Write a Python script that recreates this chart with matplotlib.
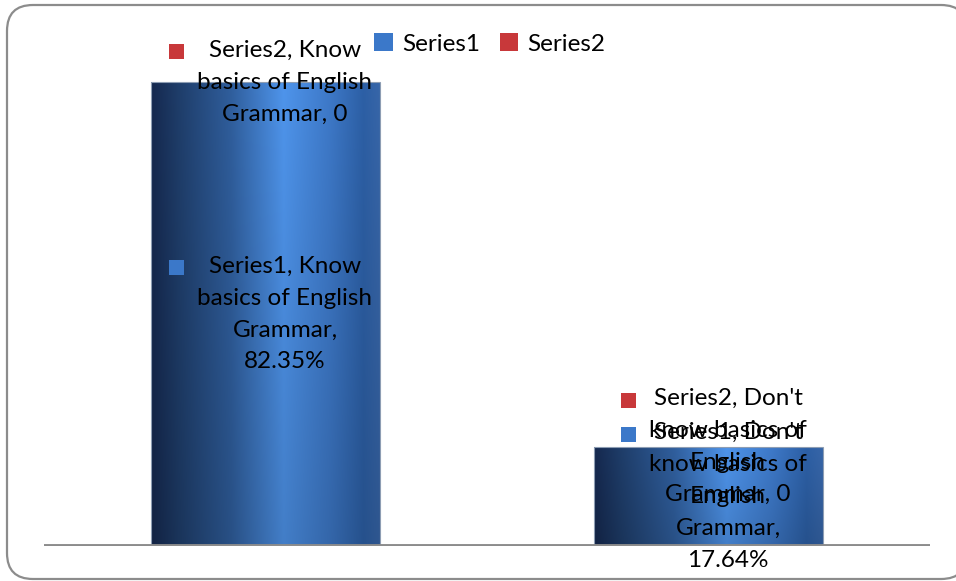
import numpy as np
import matplotlib
matplotlib.use("Agg")
import matplotlib.pyplot as plt
from matplotlib.patches import Rectangle, FancyBboxPatch, Patch
from matplotlib.colors import LinearSegmentedColormap

plt.rcParams["font.family"] = ["Lato", "DejaVu Sans"]

# ── data ──────────────────────────────────────────────
categories = ["Know basics of English Grammar", "Don't know basics of English Grammar"]
series1 = [0.8235, 0.1764]
series2 = [0.0, 0.0]
labels1 = ["Series1, Know\nbasics of English\nGrammar,\n82.35%",
           "Series1, Don't\nknow basics of\nEnglish\nGrammar,\n17.64%"]
labels2 = ["Series2, Know\nbasics of English\nGrammar, 0",
           "Series2, Don't\nknow basics of\nEnglish\nGrammar, 0"]
series_names = ["Series1", "Series2"]

BLUE_KEY = "#3b78c9"
RED_KEY = "#c8383a"
FS = 17.5

fig = plt.figure(figsize=(9.56, 5.81), dpi=100)
W, H = 956, 581

# frame with rounded corners
bg = fig.add_axes([0, 0, 1, 1])
bg.set_xlim(0, W)
bg.set_ylim(H, 0)
bg.axis("off")
bg.add_patch(FancyBboxPatch((7, 5), 960, 574,
                            boxstyle="round,pad=0,rounding_size=26",
                            fc="white", ec="#8c8c8c", lw=1.6))

ax = fig.add_axes([44 / W, 35 / H, 886 / W, 507 / H])
ax.set_xlim(-0.5, 1.5)
ax.set_ylim(0, 0.9)
ax.axis("off")
ax.patch.set_alpha(0)

x = np.arange(len(categories))
bars = ax.bar(x, series1, width=0.515, color="none", edgecolor="#8d9db3", lw=0.8, zorder=2)
ax.bar(x, series2, bottom=series1, width=0.515, color=RED_KEY, zorder=2)

# cylinder-like gradient inside each bar
cmap = LinearSegmentedColormap.from_list("cyl", [
    (0.0, "#14264a"), (0.12, "#1d3a64"), (0.35, "#2d5994"),
    (0.58, "#4a8cde"), (0.78, "#3a72bd"), (0.93, "#2a5a9c"), (1.0, "#34609f")])
hx = np.linspace(0, 1, 256)
rgb = cmap(hx)[:, :3]
vfac = np.linspace(1.06, 0.9, 64)[:, None, None]
img = np.clip(rgb[None, :, :] * vfac, 0, 1)
for b in bars:
    x0, y0 = b.get_x(), b.get_y()
    im = ax.imshow(img, extent=(x0, x0 + b.get_width(), y0, y0 + b.get_height()),
                   aspect="auto", zorder=1.5, interpolation="bilinear")
    im.set_clip_path(b)

# baseline
ax.axhline(0, color="#8c8c8c", lw=2.8, zorder=3)

# data labels (stacked segments -> centred on each segment)
texts = []
for i in range(len(categories)):
    t1 = ax.annotate(labels1[i], (x[i], series1[i] / 2), xytext=(14, 0),
                     textcoords="offset points", ha="center", va="center",
                     fontsize=FS, linespacing=1.64, zorder=5)
    t2 = ax.annotate(labels2[i], (x[i], series1[i] + series2[i] / 2), xytext=(14, 0),
                     textcoords="offset points", ha="center", va="center",
                     fontsize=FS, linespacing=1.64, zorder=5)
    texts.append((t1, BLUE_KEY))
    texts.append((t2, RED_KEY))

# legend
handles = [Patch(fc=BLUE_KEY), Patch(fc=RED_KEY)]
fig.legend(handles, series_names, loc="center", bbox_to_anchor=(490 / W, 1 - 44 / H),
           ncol=2, frameon=False, fontsize=FS, handlelength=0.75, handleheight=0.75,
           handletextpad=0.4, columnspacing=0.8)

# legend keys next to the data labels
fig.canvas.draw()
r = fig.canvas.get_renderer()
for t, c in texts:
    bb = t.get_window_extent(r)
    nlines = t.get_text().count("\n") + 1
    lh = bb.height / nlines
    kx = bb.x0 - 28
    ky = bb.y1 - lh / 2 - 5
    fig.add_artist(Rectangle((kx / W, ky / H), 15 / W, 15 / H, transform=fig.transFigure,
                             fc=c, ec="none", zorder=6))

fig.savefig("out.png", dpi=100)
